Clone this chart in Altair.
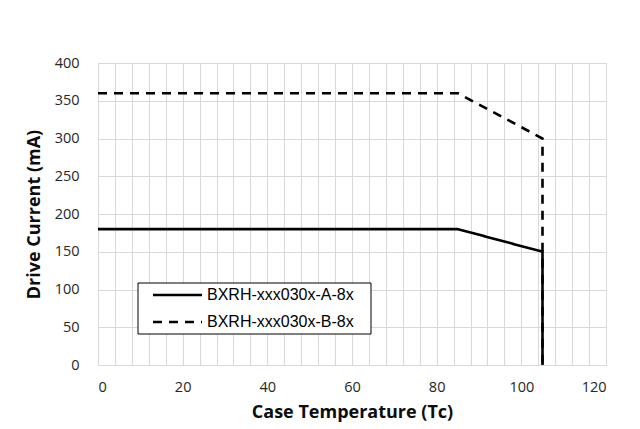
import altair as alt
import pandas as pd

series_a = "BXRH-xxx030x-A-8x"
series_b = "BXRH-xxx030x-B-8x"
temp_a = [0, 85, 105, 105]
curr_a = [180, 180, 150, 0]
temp_b = [0, 85, 105, 105]
curr_b = [360, 360, 300, 0]

rows = []
for i, (t, c) in enumerate(zip(temp_a, curr_a)):
    rows.append({"series": series_a, "temp": t, "current": c, "idx": i})
for i, (t, c) in enumerate(zip(temp_b, curr_b)):
    rows.append({"series": series_b, "temp": t, "current": c, "idx": i})
df = pd.DataFrame(rows)

font = "Open Sans"
dash_scale = alt.Scale(domain=[series_a, series_b], range=[[1, 0], [9, 7]])

lines = alt.Chart(df).mark_line(strokeWidth=2.6, color="black", strokeCap="butt").encode(
    x=alt.X("temp:Q",
            scale=alt.Scale(domain=[0, 120], nice=False),
            axis=alt.Axis(values=list(range(0, 121, 4)),
                          labelExpr="datum.value % 20 == 0 ? datum.label : ''",
                          title="Case Temperature (Tc)",
                          ticks=False, domain=False,
                          gridColor="#d9d9d9", gridWidth=1,
                          labelFont=font, labelFontSize=14.5, labelColor="#262626",
                          labelPadding=15,
                          titleFont=font, titleFontSize=18, titleFontWeight="bold",
                          titleColor="#0d0d0d", titlePadding=10)),
    y=alt.Y("current:Q",
            scale=alt.Scale(domain=[0, 400], nice=False),
            axis=alt.Axis(values=list(range(0, 401, 50)),
                          title="Drive Current (mA)",
                          ticks=False, domain=False,
                          gridColor="#d9d9d9", gridWidth=1,
                          labelFont=font, labelFontSize=14.5, labelColor="#262626",
                          labelPadding=19,
                          titleFont=font, titleFontSize=18, titleFontWeight="bold",
                          titleColor="#0d0d0d", titlePadding=11)),
    strokeDash=alt.StrokeDash("series:N", scale=dash_scale, legend=None),
    order="idx:Q",
)

# Manual legend box (positions in plot pixels)
legend_df = pd.DataFrame({"series": [series_a, series_b]})
box = alt.Chart(legend_df.head(1)).mark_rect(
    fill="white", stroke="black", strokeWidth=1
).encode(x=alt.value(40), x2=alt.value(273), y=alt.value(220), y2=alt.value(271))

sym_a = alt.Chart(legend_df.head(1)).mark_rule(strokeWidth=2.6, color="black", strokeCap="butt").encode(
    x=alt.value(55), x2=alt.value(104), y=alt.value(232),
    strokeDash=alt.StrokeDash("series:N", scale=dash_scale, legend=None))
sym_b = alt.Chart(legend_df.tail(1)).mark_rule(strokeWidth=2.6, color="black", strokeCap="butt").encode(
    x=alt.value(55), x2=alt.value(104), y=alt.value(259),
    strokeDash=alt.StrokeDash("series:N", scale=dash_scale, legend=None))
lab_a = alt.Chart(legend_df.head(1)).mark_text(
    align="left", baseline="middle", font="Liberation Sans", fontSize=16, color="black"
).encode(x=alt.value(109), y=alt.value(232), text="series:N")
lab_b = alt.Chart(legend_df.tail(1)).mark_text(
    align="left", baseline="middle", font="Liberation Sans", fontSize=16, color="black"
).encode(x=alt.value(109), y=alt.value(259), text="series:N")

chart = alt.layer(lines, box, sym_a, sym_b, lab_a, lab_b).properties(
    width=508, height=302,
    autosize=alt.AutoSizeParams(type="none"),
    padding={"left": 90, "top": 55, "right": 20, "bottom": 60},
).configure_view(stroke="#d9d9d9")

chart.save("out.html", embed_options={"renderer": "svg", "actions": False})
